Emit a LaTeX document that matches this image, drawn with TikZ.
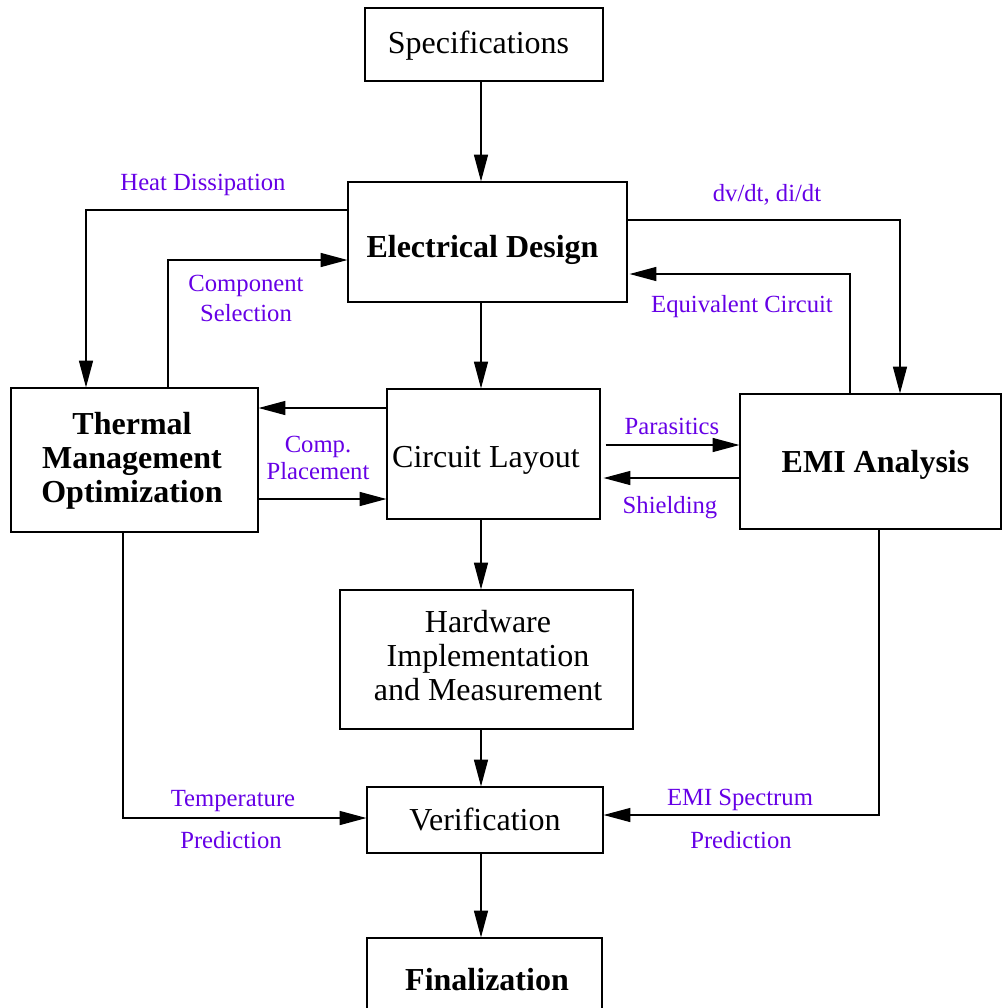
\documentclass[tikz,border=0pt]{standalone}
\usepackage{fontspec}
\setmainfont{Liberation Serif}
\usetikzlibrary{arrows.meta,calc}
\definecolor{lab}{RGB}{102,0,230}
\newlength\upx
\setlength\upx{0.75pt}
% #1 = horizontal shift (px), #2 = baseline of last line below centre (px), #3 = text
\newcommand\bxt[3]{\raisebox{-#2\upx}[0pt][0pt]{\makebox[0pt]{\kern#1\upx\begin{tabular}[b]{@{}c@{}}#3\end{tabular}\kern-#1\upx}}}
\begin{document}
\begin{tikzpicture}[x=0.75pt,y=-0.75pt,
  box/.style={draw,line width=0.9pt,inner sep=0pt,font=\fontsize{24}{25.5}\selectfont},
  bbox/.style={box,font=\fontsize{24}{25.5}\selectfont\bfseries},
  arr/.style={draw,line width=0.9pt,-{Triangle[length=20pt,width=10.5pt]}},
  lbl/.style={text=lab,font=\fontsize{18.5}{22}\selectfont,inner sep=0pt,align=center}]
\useasboundingbox (0,0) rectangle (1002,1008);
\coordinate (spine) at (481,0);
\node[box,minimum width=178.5pt,minimum height=54.75pt] (spec) at (484,44.5) {\bxt{-5.5}{8.5}{Specifications}};
\node[bbox,minimum width=209.25pt,minimum height=90pt] (elec) at (487.5,242) {\bxt{-5}{15}{Electrical Design}};
\node[bbox,minimum width=185.25pt,minimum height=108pt] (therm) at (134.5,460) {\bxt{-2.5}{42}{Thermal\\Management\\Optimization}};
\node[box,minimum width=159.75pt,minimum height=97.5pt] (circ) at (493.5,454) {\bxt{-7.5}{13}{Circuit Layout}};
\node[bbox,minimum width=195.75pt,minimum height=101.25pt] (emi) at (870.5,461.5) {\bxt{5}{10.5}{EMI Analysis}};
\node[box,minimum width=219.75pt,minimum height=104.25pt] (hw) at (486.5,659.5) {\bxt{1.5}{40.5}{Hardware\\Implementation\\and Measurement}};
\node[box,minimum width=177pt,minimum height=49.5pt] (ver) at (485,820) {\bxt{0}{10.5}{Verification}};
\node[bbox,minimum width=176.25pt,minimum height=61.5pt] (fin) at (484.5,979) {\bxt{2.5}{11}{Finalization}};
% spine
\draw[arr] (spec.south -| spine) -- (elec.north -| spine);
\draw[arr] (elec.south -| spine) -- (circ.north -| spine);
\draw[arr] (circ.south -| spine) -- (hw.north -| spine);
\draw[arr] (hw.south -| spine) -- (ver.north -| spine);
\draw[arr] (ver.south -| spine) -- (fin.north -| spine);
% side coordinates
\coordinate (xh) at (86,0);
\coordinate (xc) at (168,0);
\coordinate (xd) at (900,0);
\coordinate (xe) at (850,0);
\coordinate (xt) at (123,0);
\coordinate (xs) at (879,0);
\coordinate (ya) at (0,408);
\coordinate (yb) at (0,499);
\coordinate (yp) at (0,445);
\coordinate (ysh) at (0,478);
\draw[arr] ($(elec.west)+(0,-32)$) -| (therm.north -| xh);
\draw[arr] (therm.north -| xc) |- ($(elec.west)+(0,18)$);
\draw[arr] ($(elec.east)+(0,-22)$) -| (emi.north -| xd);
\draw[arr] (emi.north -| xe) |- ($(elec.east)+(2,32)$);
\draw[arr] (circ.west |- ya) -- (therm.east |- ya);
\draw[arr] (therm.east |- yb) -- (circ.west |- yb);
\draw[arr] ($(circ.east |- yp)+(5,0)$) -- (emi.west |- yp);
\draw[arr] (emi.west |- ysh) -- ($(circ.east |- ysh)+(3,0)$);
\draw[arr] (therm.south -| xt) |- ($(ver.west)+(0,-2)$);
\draw[arr] (emi.south -| xs) |- ($(ver.east)+(0,-5)$);
% labels
\node[lbl] (l1) at (203,185) {Heat Dissipation};
\node[lbl,font=\fontsize{18.5}{22.5}\selectfont] (l2) at (246,298) {Component\\Selection};
\node[lbl] (l3) at (767,195) {dv/dt, di/dt};
\node[lbl] (l4) at (742,307) {Equivalent Circuit};
\node[lbl,font=\fontsize{18.5}{20}\selectfont] (l5) at (318,458) {Comp.\\Placement};
\node[lbl] (l6) at (672,426) {Parasitics};
\node[lbl] (l7) at (670,508) {Shielding};
\node[lbl] (l8) at (233,801) {Temperature};
\node[lbl] (l9) at (231,840) {Prediction};
\node[lbl] (l10) at (740,800) {EMI Spectrum};
\node[lbl] (l11) at (741,840) {Prediction};
\end{tikzpicture}
\end{document}
